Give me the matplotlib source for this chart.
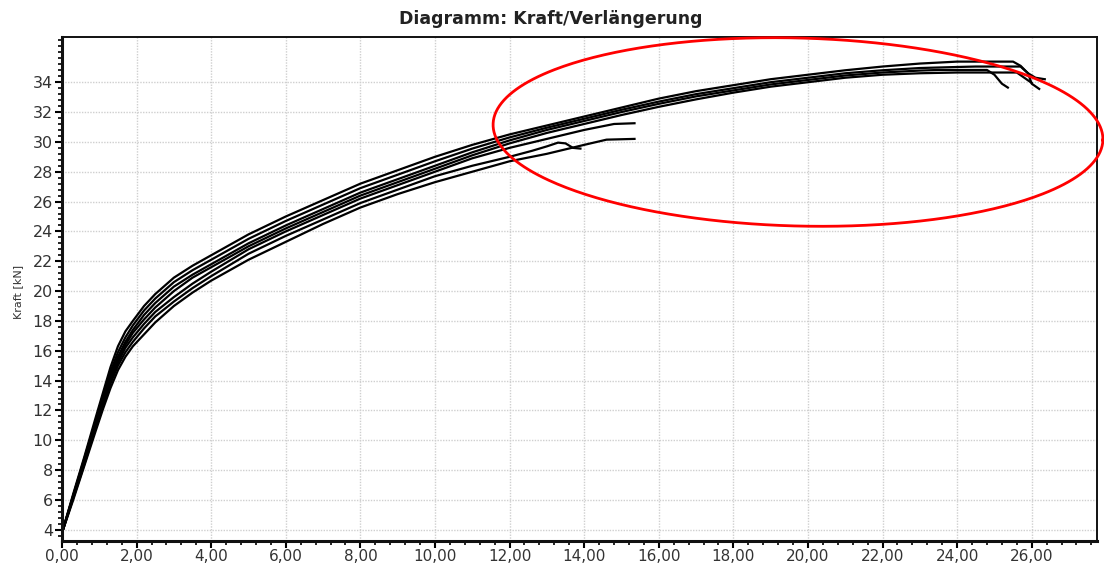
import numpy as np
import matplotlib
matplotlib.use("Agg")
import matplotlib.pyplot as plt
from matplotlib.lines import Line2D
from matplotlib.ticker import MultipleLocator, FuncFormatter

# ---- data (Verlängerung [mm], Kraft [kN]) ----
x_knee = [0, 0.3, 0.6, 0.9, 1.1, 1.3, 1.5, 1.7, 1.9, 2.2, 2.5, 3, 3.5, 4]

x_L1 = x_knee + [5, 6, 7, 8, 9, 10, 11, 12, 13, 14, 15, 16, 17, 18, 19, 20, 21, 22, 23, 24, 25.5, 25.7, 25.9, 26.1, 26.35]
y_L1 = [3.8, 6.4, 8.9, 11.5, 13.2, 14.9, 16.3, 17.3, 18.0, 19.0, 19.8, 20.9, 21.7, 22.4,
        23.8, 25.0, 26.1, 27.2, 28.1, 29.0, 29.8, 30.5, 31.1, 31.7, 32.3, 32.9, 33.4, 33.8, 34.2, 34.5, 34.8, 35.05, 35.25, 35.38, 35.38, 35.1, 34.6, 34.3, 34.2]

x_L2 = x_knee + [5, 6, 7, 8, 9, 10, 11, 12, 13, 14, 15, 16, 17, 18, 19, 20, 21, 22, 23, 24, 24.5, 25.7, 25.9, 26.0, 26.2]
y_L2 = [3.8, 6.3, 8.8, 11.3, 13.0, 14.6, 15.9, 16.9, 17.7, 18.7, 19.5, 20.6, 21.4, 22.1,
        23.5, 24.7, 25.8, 26.9, 27.8, 28.7, 29.55, 30.3, 30.95, 31.55, 32.15, 32.7, 33.2, 33.6, 34.0, 34.3, 34.6, 34.8, 34.95, 35.02, 35.05, 35.05, 34.6, 33.9, 33.55]

x_L3 = x_knee + [5, 6, 7, 8, 9, 10, 11, 12, 13, 14, 15, 16, 17, 18, 19, 20, 21, 22, 23, 23.5, 24.8, 25.0, 25.2, 25.36]
y_L3 = [3.8, 6.3, 8.7, 11.2, 12.9, 14.4, 15.6, 16.6, 17.4, 18.4, 19.2, 20.3, 21.1, 21.8,
        23.2, 24.4, 25.5, 26.6, 27.5, 28.4, 29.3, 30.1, 30.8, 31.4, 32.0, 32.55, 33.05, 33.45, 33.85, 34.15, 34.45, 34.65, 34.78, 34.82, 34.82, 34.5, 33.9, 33.64]

x_L4 = x_knee + [5, 6, 7, 8, 9, 10, 11, 12, 13, 14, 15, 16, 17, 18, 19, 20, 21, 22, 23, 24, 25.6, 25.8, 26.0]
y_L4 = [3.8, 6.2, 8.6, 11.1, 12.7, 14.2, 15.4, 16.4, 17.2, 18.1, 18.9, 20.0, 20.9, 21.6,
        23.0, 24.2, 25.3, 26.4, 27.3, 28.2, 29.1, 29.9, 30.6, 31.2, 31.8, 32.35, 32.85, 33.3, 33.7, 34.0, 34.3, 34.5, 34.6, 34.65, 34.65, 34.3, 33.95]

x_S1 = x_knee + [5, 6, 7, 8, 9, 10, 11, 12, 13, 14, 14.8, 15.35]
y_S1 = [3.8, 6.2, 8.5, 10.9, 12.5, 14.0, 15.2, 16.2, 16.9, 17.8, 18.6, 19.6, 20.5, 21.3,
        22.8, 24.0, 25.1, 26.2, 27.1, 28.0, 28.9, 29.6, 30.2, 30.8, 31.2, 31.25]

x_S2 = x_knee + [5, 6, 7, 8, 9, 10, 11, 12, 13, 14, 14.6, 15.35]
y_S2 = [3.8, 6.0, 8.3, 10.6, 12.1, 13.5, 14.7, 15.6, 16.3, 17.1, 17.9, 19.0, 19.9, 20.7,
        22.1, 23.3, 24.5, 25.6, 26.5, 27.3, 28.0, 28.7, 29.2, 29.8, 30.15, 30.2]

x_S3 = x_knee + [5, 6, 7, 8, 9, 10, 11, 12, 12.6, 13.0, 13.3, 13.5, 13.7, 13.9]
y_S3 = [3.8, 6.1, 8.4, 10.8, 12.3, 13.8, 15.0, 15.9, 16.6, 17.5, 18.3, 19.3, 20.2, 21.0,
        22.5, 23.7, 24.8, 25.9, 26.8, 27.7, 28.4, 29.0, 29.4, 29.7, 29.95, 29.9, 29.6, 29.55]

curves = [(x_L1, y_L1), (x_L2, y_L2), (x_L3, y_L3), (x_L4, y_L4),
          (x_S1, y_S1), (x_S2, y_S2), (x_S3, y_S3)]

y_ticks = list(range(4, 35, 2))
x_ticks = list(range(0, 27, 2))

title = "Diagramm: Kraft/Verlängerung"
ylabel = "Kraft [kN]"

# ---- figure ----
W, H = 1104, 566
fig = plt.figure(figsize=(W / 100, H / 100), dpi=100)
ax = fig.add_axes([62 / W, 1 - 541 / H, (1097 - 62) / W, (541 - 36.7) / H])

for xs, ys in curves:
    ax.plot(xs, ys, color="black", lw=1.6, solid_joinstyle="round")

ax.set_xlim(0, 27.75)
ax.set_ylim(3.25, 37.05)
ax.set_xticks(x_ticks)
ax.set_yticks(y_ticks)
ax.xaxis.set_minor_locator(MultipleLocator(0.4))
ax.yaxis.set_minor_locator(MultipleLocator(0.4))
ax.xaxis.set_major_formatter(FuncFormatter(lambda v, p: f"{v:.2f}".replace(".", ",")))
ax.yaxis.set_major_formatter(FuncFormatter(lambda v, p: f"{int(round(v))}"))

ax.grid(True, which="major", color="#cfcfcf", linestyle=(0, (1, 1)), linewidth=1.0)
ax.set_axisbelow(True)

ax.tick_params(axis="y", which="major", direction="out", length=5, width=1.5,
               color="black", labelsize=11.5, labelcolor="#333333", pad=1.5)
ax.tick_params(axis="x", which="major", direction="out", length=5, width=1.5,
               color="black", labelsize=11, labelcolor="#333333", pad=0.5)
ax.tick_params(axis="both", which="minor", direction="out", length=3, width=1.2, color="black")

ax.spines["left"].set_linewidth(2.2)
ax.spines["bottom"].set_linewidth(2.2)
ax.spines["top"].set_linewidth(1.4)
ax.spines["right"].set_linewidth(1.4)
for s in ax.spines.values():
    s.set_color("#111111")

fig.text(551 / W, 1 - 19 / H, title, ha="center", va="center",
         fontsize=12.5, fontweight="bold", color="#222222")
fig.text(18 / W, 1 - 292 / H, ylabel, ha="center", va="center",
         rotation=90, fontsize=8, color="#333333")

# red highlight ellipse (annotation, in pixel space)
cx, cy, a, b = 798.0, 132.0, 305.0, 94.0
theta = np.deg2rad(1.5)
t = np.linspace(0, 2 * np.pi, 400)
px = cx + a * np.cos(t) * np.cos(theta) - b * np.sin(t) * np.sin(theta)
py = cy + a * np.cos(t) * np.sin(theta) + b * np.sin(t) * np.cos(theta)
fig.add_artist(Line2D(px / W, 1 - py / H, transform=fig.transFigure,
                      color="#ff0000", lw=2.0))

fig.savefig("out.png", dpi=100)
